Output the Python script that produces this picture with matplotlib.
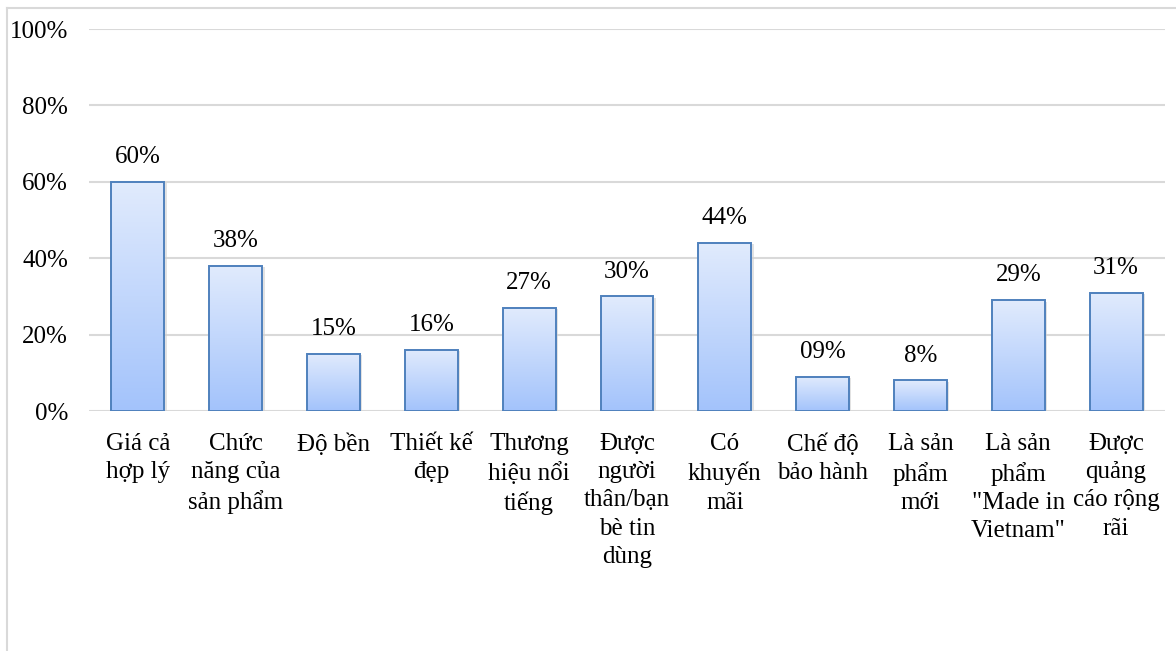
import numpy as np
import matplotlib
matplotlib.use("Agg")
import matplotlib.pyplot as plt
from matplotlib.colors import LinearSegmentedColormap
from matplotlib.lines import Line2D

categories = [
    "Giá cả\nhợp lý",
    "Chức\nnăng của\nsản phẩm",
    "Độ bền",
    "Thiết kế\nđẹp",
    "Thương\nhiệu nổi\ntiếng",
    "Được\nngười\nthân/bạn\nbè tin\ndùng",
    "Có\nkhuyến\nmãi",
    "Chế độ\nbảo hành",
    "Là sản\nphẩm\nmới",
    "Là sản\nphẩm\n\"Made in\nVietnam\"",
    "Được\nquảng\ncáo rộng\nrãi",
]
values = [60, 38, 15, 16, 27, 30, 44, 9, 8, 29, 31]
value_labels = ["60%", "38%", "15%", "16%", "27%", "30%", "44%", "09%", "8%", "29%", "31%"]
yticks = [0, 20, 40, 60, 80, 100]
ytick_labels = ["0%", "20%", "40%", "60%", "80%", "100%"]

plt.rcParams["font.family"] = ["Liberation Serif", "DejaVu Serif"]
FS = 18

fig = plt.figure(figsize=(11.76, 6.51), dpi=100)
ax = fig.add_axes([89 / 1176, 1 - 411 / 651, (1165 - 89) / 1176, (411 - 29) / 651])

x = np.arange(len(categories))
width = 0.54
bars = ax.bar(x, values, width=width, facecolor="none", edgecolor="#4F81BD",
              linewidth=1.4, zorder=3)

# vertical gradient fill inside each bar
cmap = LinearSegmentedColormap.from_list("barfill", ["#A3C3FB", "#E1EBFD"])
grad = np.linspace(0, 1, 256).reshape(-1, 1)
for b in bars:
    x0, w, h = b.get_x(), b.get_width(), b.get_height()
    ax.imshow(grad, extent=[x0, x0 + w, 0, h], origin="lower", aspect="auto",
              cmap=cmap, zorder=2, interpolation="bilinear")
    # soft shadow on the right side
    ax.fill_between([x0 + w, x0 + w + 0.025], 0, h - 0.4, color="#D0D0D0",
                    alpha=0.6, zorder=1, linewidth=0)

for xi, v, lab in zip(x, values, value_labels):
    ax.annotate(lab, (xi, v), xytext=(0, 10), textcoords="offset points",
                ha="center", va="bottom", fontsize=FS, color="#000000")

ax.set_xlim(-0.5, len(categories) - 0.5)
ax.set_ylim(0, 100)
ax.set_yticks(yticks)
ax.set_yticklabels(ytick_labels, fontsize=FS)
ax.set_xticks(x)
ax.set_xticklabels(categories, fontsize=FS, linespacing=1.36, va="top")
ax.tick_params(axis="both", length=0)
ax.tick_params(axis="y", pad=15)
ax.tick_params(axis="x", pad=16)
ax.grid(axis="y", color="#D9D9D9", linewidth=1.5, zorder=0)
ax.set_axisbelow(True)
for s in ax.spines.values():
    s.set_visible(False)

# outer frame of the chart area
fig.add_artist(Line2D([7 / 1176, 7 / 1176], [0, 1 - 8 / 651], transform=fig.transFigure,
                      color="#D9D9D9", linewidth=1.5))
fig.add_artist(Line2D([7 / 1176, 1], [1 - 8 / 651, 1 - 8 / 651], transform=fig.transFigure,
                      color="#D9D9D9", linewidth=1.5))

fig.savefig("out.png", dpi=100, facecolor="white")
